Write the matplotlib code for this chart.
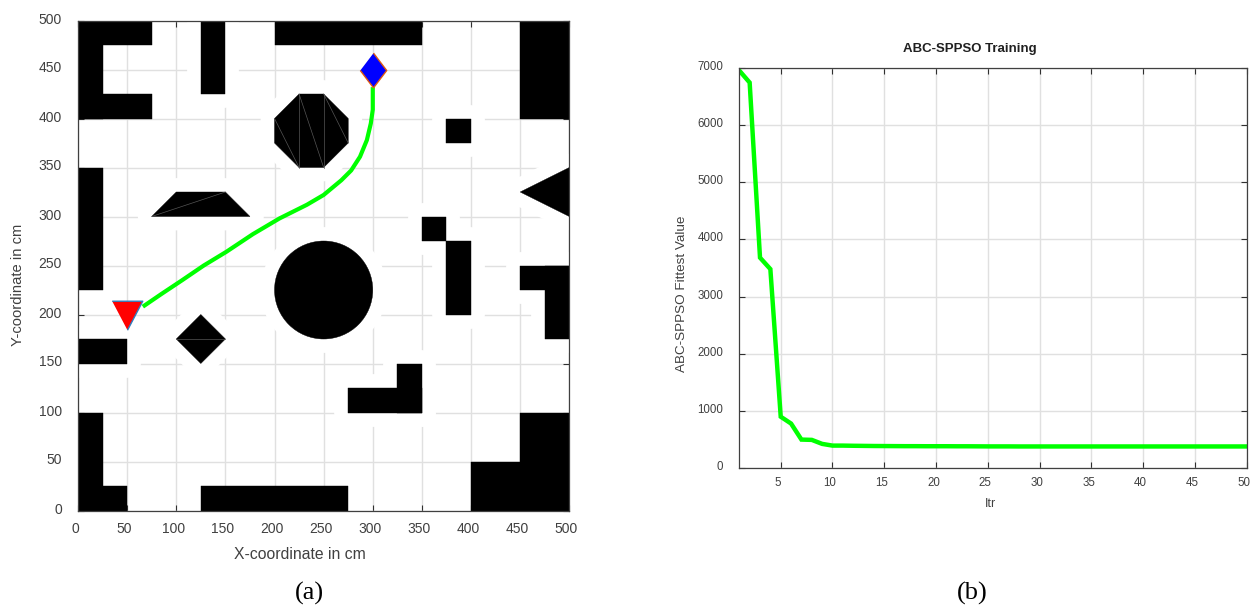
import matplotlib
matplotlib.use('Agg')
import matplotlib.pyplot as plt
from matplotlib.patches import Polygon, Circle
from matplotlib.transforms import ScaledTranslation

W, H = 1253, 608

# obstacles in cm: walls run up to the frame, blocks have a white margin round them
walls = [(0, 400, 25, 100), (0, 475, 75, 25), (0, 400, 75, 25), (200, 475, 150, 25),
         (450, 400, 50, 100), (0, 225, 25, 125), (0, 0, 25, 100), (0, 0, 50, 25),
         (125, 0, 150, 25), (450, 0, 50, 100), (400, 0, 100, 50)]
blocks = [(125, 425, 25, 75), (375, 375, 25, 25), (350, 275, 25, 25), (375, 200, 25, 75),
          (450, 225, 50, 25), (475, 175, 25, 75), (0, 150, 50, 25), (275, 100, 75, 25),
          (325, 100, 25, 50)]
octagon = [(225, 350), (250, 350), (275, 375), (275, 400), (250, 425), (225, 425), (200, 400), (200, 375)]
trapezoid = [(75, 300), (175, 300), (150, 325), (100, 325)]
wedge = [(450, 325), (500, 350), (500, 300)]
rhombus = [(100, 175), (125, 200), (150, 175), (125, 150)]
circle_xy = (250, 225)
circle_r = 50
seams = [((200, 400), (225, 350)), ((225, 425), (225, 350)), ((225, 425), (250, 350)),
         ((250, 425), (250, 350)), ((250, 425), (275, 375)), ((75, 300), (150, 325)),
         ((100, 175), (150, 175))]

path_x = [66, 85, 106, 128, 151, 178, 205, 233, 250, 268, 278, 287, 294, 298, 300, 300]
path_y = [208, 221, 235, 250, 264, 282, 298, 312, 322, 337, 347, 361, 378, 395, 409, 432]
start = (50, 198)
goal = (300, 450)

itr = list(range(1, 51))
fittest = [6950, 6740, 3680, 3480, 900, 780, 500, 495, 425, 395, 395, 392, 390, 388, 387,
           386, 385, 385, 384, 384, 384, 383, 383, 382, 381, 381, 381, 380, 380, 380,
           380, 380, 380, 380, 380, 380, 380, 380, 380, 380, 380, 380, 380, 380, 380,
           380, 380, 380, 380, 380]

plt.rcParams['font.family'] = ['Liberation Sans', 'DejaVu Sans']
TXT = '#404040'
GRID = '#e0e0e0'
GREEN = '#00ff00'


def add_axes_px(fig, left, top, right, bottom):
    return fig.add_axes([left / W, 1 - bottom / H, (right - left) / W, (bottom - top) / H])


def style(ax, size, padx, pady, dx, dy):
    ax.grid(True, color=GRID, linewidth=1)
    ax.set_axisbelow(True)
    ax.tick_params(direction='in', top=True, right=True, length=4, width=0.8, color='#303030',
                   labelcolor=TXT, labelsize=size)
    ax.tick_params(axis='x', pad=padx)
    ax.tick_params(axis='y', pad=pady)
    for s in ax.spines.values():
        s.set_color('#404040')
        s.set_linewidth(0.9)
        s.set_zorder(6)
    # tick labels sit a little left of and above their ticks in the source
    for lab in ax.get_xticklabels():
        lab.set_transform(lab.get_transform() + ScaledTranslation(dx / 100, 0, ax.figure.dpi_scale_trans))
    for lab in ax.get_yticklabels():
        lab.set_transform(lab.get_transform() + ScaledTranslation(0, dy / 100, ax.figure.dpi_scale_trans))


def corners(r):
    x, y, w, h = r
    return [(x, y), (x + w, y), (x + w, y + h), (x, y + h)]


fig = plt.figure(figsize=(W / 100, H / 100), dpi=100)

ax = add_axes_px(fig, 78, 20.5, 569.3, 510.5)
ax.set_xlim(0, 500)
ax.set_ylim(0, 500)
ax.set_xticks(range(0, 501, 50))
ax.set_yticks(range(0, 501, 50))
style(ax, 10, 8.5, 11.5, -3, 2.5)

margin = [corners(r) for r in blocks] + [octagon, trapezoid, wedge, rhombus]
for pts in margin:
    ax.add_patch(Polygon(pts, closed=True, fc='white', ec='white', lw=20, joinstyle='round', zorder=1.5))
ax.add_patch(Circle(circle_xy, circle_r, fc='white', ec='white', lw=20, zorder=1.5))
for pts in margin + [corners(r) for r in walls]:
    ax.add_patch(Polygon(pts, closed=True, fc='black', ec='black', lw=0.3, zorder=2))
ax.add_patch(Circle(circle_xy, circle_r, fc='black', ec='black', lw=0.3, zorder=2))
for a, b in seams:
    ax.plot([a[0], b[0]], [a[1], b[1]], color='#555555', lw=0.5, zorder=2.5)

ax.plot(path_x, path_y, color=GREEN, lw=3, solid_capstyle='butt', zorder=3)
ax.plot(*start, marker=[(-1, 1), (1, 1), (0, -0.9)], ms=22, mfc='#ff0000', mec='#2f7fc0', mew=1, zorder=4, clip_on=False)
ax.plot(*goal, marker=[(0, 1), (0.76, 0), (0, -1), (-0.76, 0)], ms=25, mfc='#0000ff', mec='#e05a10', mew=1, zorder=4)
ax.set_xlabel('X-coordinate in cm', fontsize=11.3, color=TXT)
ax.set_ylabel('Y-coordinate in cm', fontsize=10.6, color=TXT)
ax.xaxis.set_label_coords((300 - 78) / 491.3, (510.5 - 547) / 490)
ax.yaxis.set_label_coords((25 - 78) / 491.3, (510.5 - 285) / 490)

ax2 = add_axes_px(fig, 739.3, 67.7, 1246.7, 468.2)
ax2.set_xlim(1, 50)
ax2.set_ylim(0, 7000)
ax2.set_xticks(range(5, 51, 5))
ax2.set_yticks(range(0, 7001, 1000))
style(ax2, 8.3, 6, 11.5, -2.5, 2.5)
ax2.plot(itr, fittest, color=GREEN, lw=3.2, zorder=3, solid_joinstyle='miter')
ax2.set_xlabel('Itr', fontsize=9, color=TXT)
ax2.set_ylabel('ABC-SPPSO Fittest Value', fontsize=9.7, color=TXT)
ax2.xaxis.set_label_coords((990 - 739.3) / 507.4, (468.2 - 498) / 400.5)
ax2.yaxis.set_label_coords((688 - 739.3) / 507.4, (468.2 - 294) / 400.5)
fig.text(970 / W, 1 - 49 / H, 'ABC-SPPSO Training', fontsize=9.5, fontweight='bold', color='#202020', ha='center', va='center')

fig.text(309 / W, 1 - 593 / H, '(a)', family='Liberation Serif', fontsize=19, ha='center', va='center', color='black')
fig.text(972 / W, 1 - 593 / H, '(b)', family='Liberation Serif', fontsize=19, ha='center', va='center', color='black')

fig.savefig('out.png', dpi=100)
